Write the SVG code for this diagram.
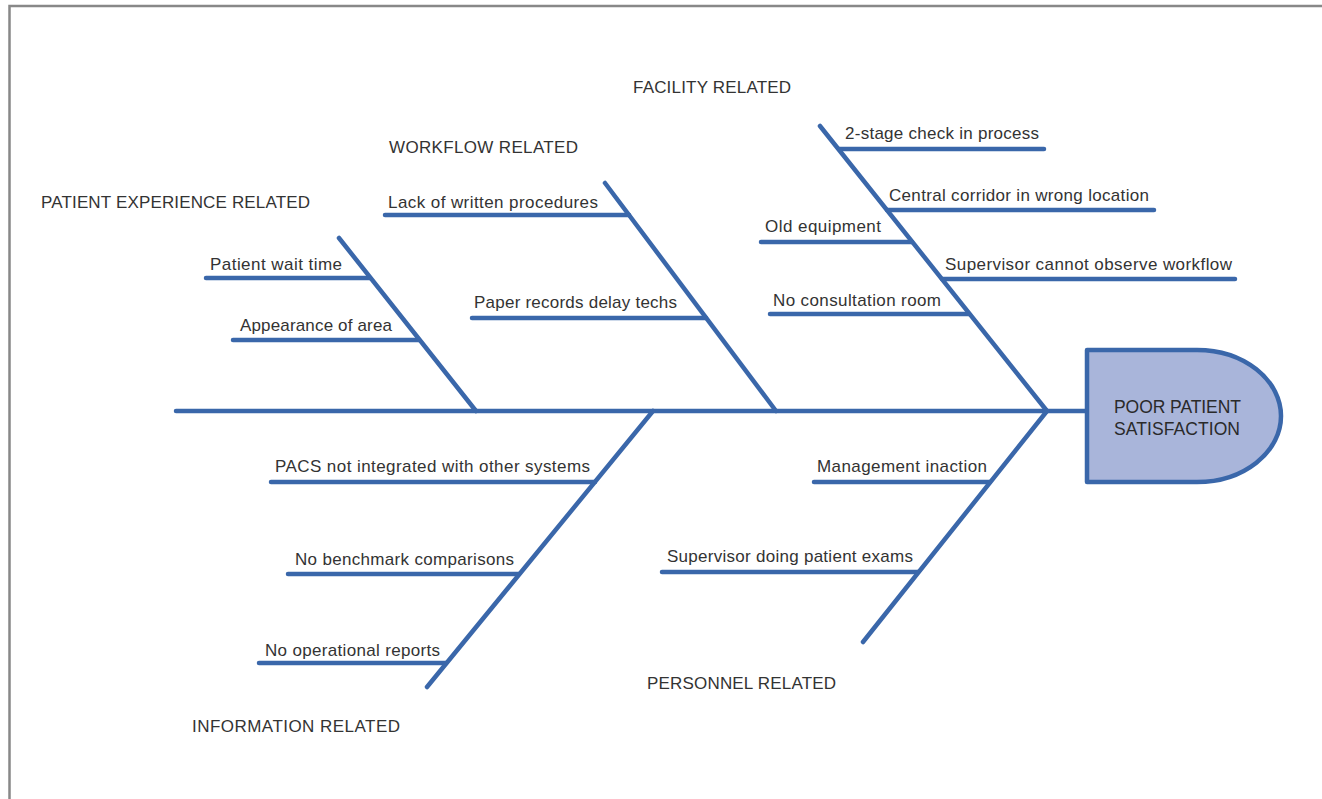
<svg xmlns="http://www.w3.org/2000/svg" width="1322" height="799" viewBox="0 0 1322 799">
<style>
.b{stroke:#3a67aa;stroke-width:4.5;stroke-linecap:round;fill:none}
.t{font-family:"Liberation Sans",Arial,sans-serif;font-size:17px;fill:#333}
.h{font-family:"Liberation Sans",Arial,sans-serif;font-size:17.5px;fill:#2a2a2a}
</style>
<rect width="1322" height="799" fill="#fff"/>
<path d="M9.5,799 V6 H1322" fill="none" stroke="#888" stroke-width="2.5"/>
<g id="connectors">
<line class="b" x1="176" y1="411" x2="1087" y2="411"/>
<line class="b" x1="339" y1="238" x2="476" y2="411"/>
<line class="b" x1="206" y1="278" x2="370" y2="278"/>
<line class="b" x1="233" y1="340" x2="419" y2="340"/>
<line class="b" x1="605" y1="183" x2="776" y2="411"/>
<line class="b" x1="385" y1="215" x2="629" y2="215"/>
<line class="b" x1="472" y1="318" x2="706" y2="318"/>
<line class="b" x1="820" y1="126" x2="1047" y2="411"/>
<line class="b" x1="839" y1="149" x2="1044" y2="149"/>
<line class="b" x1="887" y1="210" x2="1154" y2="210"/>
<line class="b" x1="761" y1="242" x2="912" y2="242"/>
<line class="b" x1="942" y1="279" x2="1235" y2="279"/>
<line class="b" x1="770" y1="314" x2="969" y2="314"/>
<line class="b" x1="653" y1="411" x2="427" y2="687"/>
<line class="b" x1="271" y1="482" x2="595" y2="482"/>
<line class="b" x1="288" y1="574" x2="519" y2="574"/>
<line class="b" x1="259" y1="663" x2="446" y2="663"/>
<line class="b" x1="1047" y1="411" x2="863" y2="642"/>
<line class="b" x1="814" y1="482" x2="990" y2="482"/>
<line class="b" x1="662" y1="572" x2="918" y2="572"/>
</g>
<g id="head">
<path d="M1087,350 H1197 A84,66 0 0 1 1197,482 H1087 Z" fill="#a9b5da" stroke="#3a67aa" stroke-width="4.5" stroke-linejoin="round"/>
<text class="h" x="1114" y="413" textLength="127" lengthAdjust="spacing">POOR PATIENT</text>
<text class="h" x="1114" y="435" textLength="126" lengthAdjust="spacing">SATISFACTION</text>
</g>
<g id="patient-experience">
<text class="t" x="41" y="208" textLength="269" lengthAdjust="spacing">PATIENT EXPERIENCE RELATED</text>
<text class="t" x="210" y="270" textLength="132" lengthAdjust="spacing">Patient wait time</text>
<text class="t" x="240" y="331" textLength="152" lengthAdjust="spacing">Appearance of area</text>
</g>
<g id="workflow">
<text class="t" x="389" y="153" textLength="189" lengthAdjust="spacing">WORKFLOW RELATED</text>
<text class="t" x="388" y="208" textLength="210" lengthAdjust="spacing">Lack of written procedures</text>
<text class="t" x="474" y="308" textLength="203" lengthAdjust="spacing">Paper records delay techs</text>
</g>
<g id="facility">
<text class="t" x="633" y="93" textLength="158" lengthAdjust="spacing">FACILITY RELATED</text>
<text class="t" x="845" y="139" textLength="194" lengthAdjust="spacing">2-stage check in process</text>
<text class="t" x="889" y="201" textLength="260" lengthAdjust="spacing">Central corridor in wrong location</text>
<text class="t" x="765" y="232" textLength="116" lengthAdjust="spacing">Old equipment</text>
<text class="t" x="945" y="270" textLength="287" lengthAdjust="spacing">Supervisor cannot observe workflow</text>
<text class="t" x="773" y="306" textLength="168" lengthAdjust="spacing">No consultation room</text>
</g>
<g id="information">
<text class="t" x="275" y="472" textLength="315" lengthAdjust="spacing">PACS not integrated with other systems</text>
<text class="t" x="295" y="565" textLength="219" lengthAdjust="spacing">No benchmark comparisons</text>
<text class="t" x="265" y="656" textLength="175" lengthAdjust="spacing">No operational reports</text>
<text class="t" x="192" y="732" textLength="208" lengthAdjust="spacing">INFORMATION RELATED</text>
</g>
<g id="personnel">
<text class="t" x="817" y="472" textLength="170" lengthAdjust="spacing">Management inaction</text>
<text class="t" x="667" y="562" textLength="246" lengthAdjust="spacing">Supervisor doing patient exams</text>
<text class="t" x="647" y="689" textLength="189" lengthAdjust="spacing">PERSONNEL RELATED</text>
</g>
</svg>
